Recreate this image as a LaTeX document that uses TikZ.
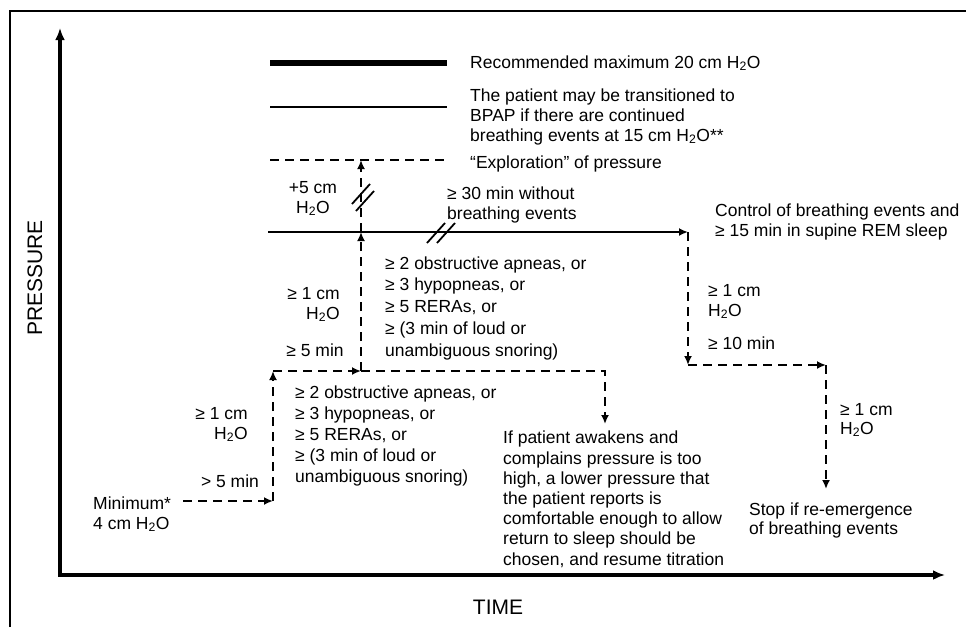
\documentclass[tikz,border=0pt]{standalone}
\usepackage{fontspec}
\setmainfont{Liberation Sans}
\usetikzlibrary{arrows.meta}
\begin{document}
\begin{tikzpicture}[x=1pt, y=-1pt,
  axis/.style={line width=3.2pt, {Latex[length=12pt,width=10pt]}-{Latex[length=12pt,width=10pt]}},
  stepline/.style={line width=2.7pt, dash pattern=on 9pt off 6pt},
  steparrow/.style={stepline, -{Latex[length=9pt,width=8pt]}},
  flow/.style={line width=2.7pt, -{Latex[length=9pt,width=8pt]}},
  brk/.style={line width=1.8pt},
  every node/.style={font=\fontsize{17.5}{21}\selectfont, inner sep=0pt, align=left}]
\useasboundingbox (0,0) rectangle (966,627);
\draw[line width=1.4pt] (10,627) -- (10,11) -- (966,11);

% axes
\coordinate (ytop) at (60,28);
\coordinate (xend) at (945,575);
\draw[axis] (ytop) |- (xend);
\node[rotate=90, font=\fontsize{21}{24}\selectfont] (pressure) at (35,278) {PRESSURE};
\node[font=\fontsize{21}{24}\selectfont] (time) at (498,607) {TIME};

% legend lines
\coordinate (thickA) at (270,63);  \coordinate (thickB) at (447,63);
\coordinate (thinA) at (270,107);  \coordinate (thinB) at (447,107);
\coordinate (dashA) at (270,160);  \coordinate (dashB) at (447,160);
\draw[line width=5.5pt] (thickA) -- (thickB);
\draw[line width=2.7pt] (thinA) -- (thinB);
\draw[stepline] (dashA) -- (dashB);
\node[anchor=base west] (maxtxt) at (470,68) {Recommended maximum 20 cm H\textsubscript{2}O};
\node[anchor=base west, font=\fontsize{17.5}{20}\selectfont] (bpaptxt) at (470,141) {The patient may be transitioned to\\BPAP if there are continued\\breathing events at 15 cm H\textsubscript{2}O**};
\node[anchor=base west] (explotxt) at (470,168) {“Exploration” of pressure};

% titration steps
\coordinate (m0) at (183,501);
\coordinate (m1) at (273,501);
\coordinate (m2) at (273,371);
\coordinate (m3) at (361,371);
\coordinate (m4) at (605,371);
\coordinate (m5) at (605,424);
\coordinate (u1) at (361,232);
\coordinate (u2) at (361,160);
\coordinate (s0) at (268,232);
\coordinate (s1) at (688,232);
\coordinate (r1) at (688,365);
\coordinate (r2) at (826,365);
\coordinate (r3) at (826,489);
\draw[steparrow] (m0) -- (m1);
\draw[steparrow] (m1) -- (m2);
\draw[steparrow] (m2) -- (m3);
\draw[steparrow] (m3) -- (m4) -- (m5);
\draw[steparrow] (m3) -- (u1);
\draw[steparrow] (u1) -- (u2);
\draw[flow] (s0) -- (s1);
\draw[steparrow] (s1) -- (r1);
\draw[steparrow] (r1) -- (r2);
\draw[steparrow] (r2) -- (r3);

% break marks
\draw[brk] (427,243) -- (445,223);
\draw[brk] (437,243) -- (455,223);
\draw[brk] (352,204) -- (370,184);
\draw[brk] (356,211) -- (374,191);

% labels
\node[anchor=base, align=center, font=\fontsize{17.5}{20}\selectfont] (plus5) at (313,213) {+5 cm\\H\textsubscript{2}O};
\node[anchor=base west, font=\fontsize{17.5}{20}\selectfont] (nobreath) at (447,219) {≥ 30 min without\\breathing events};
\node[anchor=base west, font=\fontsize{17.5}{20}\selectfont] (control) at (715,236) {Control of breathing events and\\≥ 15 min in supine REM sleep};
\node[anchor=base west, font=\fontsize{17.5}{21.75}\selectfont] (obstrup) at (385,356) {≥ 2 obstructive apneas, or\\≥ 3 hypopneas, or\\≥ 5 RERAs, or\\≥ (3 min of loud or\\unambiguous snoring)};
\node[anchor=base east, align=right, font=\fontsize{17.5}{20}\selectfont] (upcm) at (340,319) {≥ 1 cm\\H\textsubscript{2}O};
\node[anchor=base] (upmin) at (315,356) {≥ 5 min};
\node[anchor=base east, align=right, font=\fontsize{17.5}{20}\selectfont] (lowcm) at (248,439) {≥ 1 cm\\H\textsubscript{2}O};
\node[anchor=base] (lowmin) at (230,487) {> 5 min};
\node[anchor=base west, font=\fontsize{17.5}{20}\selectfont] (minimum) at (93,529) {Minimum*\\4 cm H\textsubscript{2}O};
\node[anchor=base west] (obstrlow) at (295,482) {≥ 2 obstructive apneas, or\\≥ 3 hypopneas, or\\≥ 5 RERAs, or\\≥ (3 min of loud or\\unambiguous snoring)};
\node[anchor=base west, font=\fontsize{17.5}{20.2}\selectfont] (awaken) at (503,565) {If patient awakens and\\complains pressure is too\\high, a lower pressure that\\the patient reports is\\comfortable enough to allow\\return to sleep should be\\chosen, and resume titration};
\node[anchor=base west, font=\fontsize{17.5}{20}\selectfont] (rcm) at (708,316) {≥ 1 cm\\H\textsubscript{2}O};
\node[anchor=base west] (rmin) at (708,349) {≥ 10 min};
\node[anchor=base west, font=\fontsize{17.5}{19}\selectfont] (farcm) at (840,434) {≥ 1 cm\\H\textsubscript{2}O};
\node[anchor=base west, font=\fontsize{17.5}{19}\selectfont] (stop) at (749,534) {Stop if re-emergence\\of breathing events};
\end{tikzpicture}
\end{document}
